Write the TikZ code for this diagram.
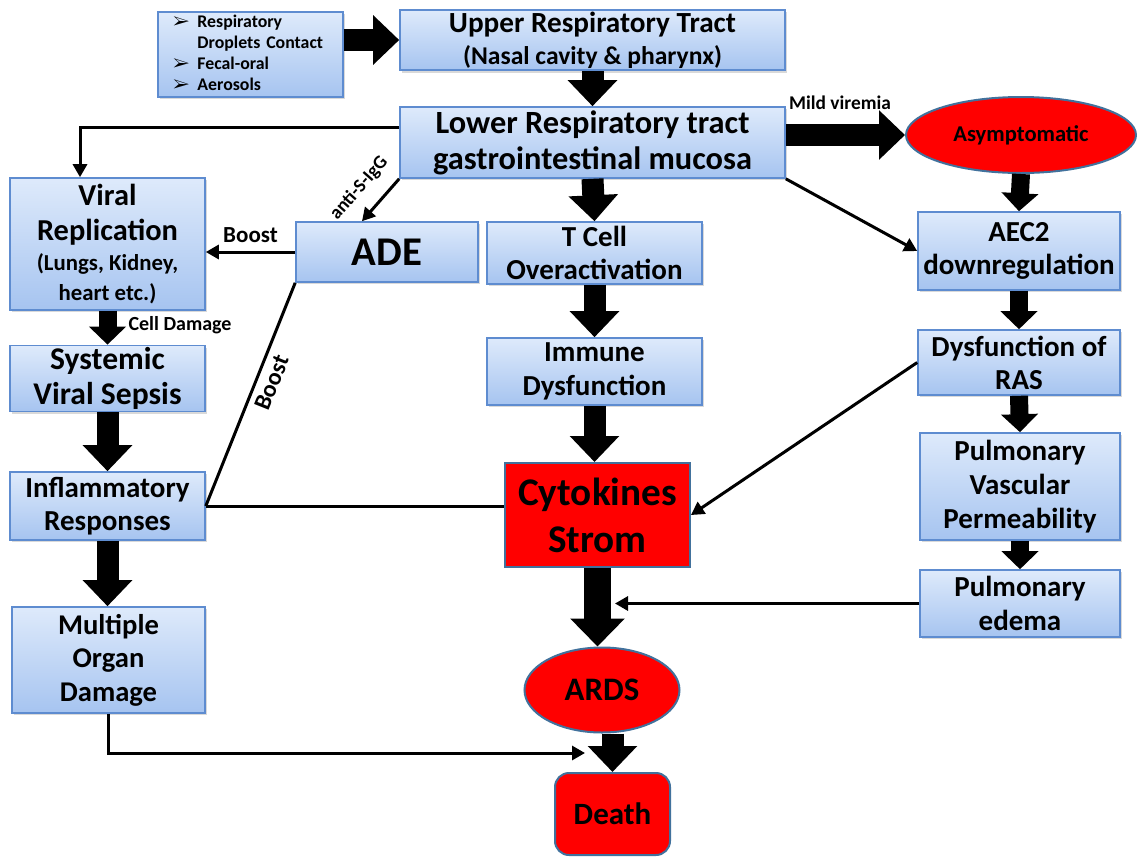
\documentclass[tikz,border=0pt]{standalone}
\usepackage{fontspec}
\setmainfont{Carlito}
\usepackage{pifont}
\usetikzlibrary{arrows.meta,shapes,shadows,calc}

\definecolor{boxtop}{RGB}{222,234,251}
\definecolor{boxbot}{RGB}{166,196,240}
\definecolor{boxline}{RGB}{94,140,208}
\definecolor{redline}{RGB}{65,113,156}

\newcommand{\setfs}[2]{\fontsize{#1}{#2}\selectfont}

\tikzset{
  wh/.style 2 args={minimum width=#1*0.5pt, minimum height=#2*0.5pt},
  txt/.style 2 args={font=\bfseries\setfs{#1}{#2}},
  bluebox/.style={draw=boxline, line width=0.8pt, top color=boxtop, bottom color=boxbot,
    inner sep=1pt, align=center, txt={14.5}{16.5},
    drop shadow={shadow xshift=1.2pt, shadow yshift=-1.2pt, opacity=0.3}},
  redbox/.style={draw=redline, line width=1pt, fill=red, inner sep=1pt, align=center, txt={15.5}{17}},
  fat/.style={line width=11pt, -{Triangle[width=24pt,length=13pt]}},
  fatbig/.style={line width=13.5pt, -{Triangle[width=26.5pt,length=14pt]}},
  fatsm/.style={line width=9pt, -{Triangle[width=18pt,length=9pt]}},
  thinarrow/.style={line width=1.5pt, -{Triangle[width=7pt,length=6.5pt]}},
  bare/.style={line width=1.5pt},
  lbl/.style={txt={10}{11}, inner sep=1pt},
}

\begin{document}
\begin{tikzpicture}[x=0.5pt,y=-0.5pt]
  \useasboundingbox (0,0) rectangle (1137,858);

  % top row
  \node[bluebox, wh={185}{85}, txt={8.9}{10.5}, align=left, text width=77.5pt,
        inner xsep=7.5pt, inner ysep=0pt] (src) at (250.5,54.5)
    {\begin{tabular}{@{}l@{\hspace{4pt}}l@{}}
      \ding{226} & Respiratory\\
                 & Droplets Contact\\
      \ding{226} & Fecal-oral\\
      \ding{226} & Aerosols
    \end{tabular}};
  \node[bluebox, wh={385}{56}, txt={14.6}{16}] (urt) at (592.5,40)
    {Upper Respiratory Tract\\\setfs{12.8}{16}(Nasal cavity \& pharynx)};
  \node[bluebox, wh={385}{71}, txt={16.2}{18}] (lrt) at (592.5,142.5)
    {Lower Respiratory tract\\gastrointestinal mucosa};
  \node[redbox, ellipse, wh={230}{76}, txt={11.3}{13}] (asym) at (1021,135) {Asymptomatic};

  % left column
  \node[bluebox, wh={195}{132}, txt={15.2}{17.5}] (viral) at (107.5,244)
    {Viral\\Replication\\[-2.5pt]\setfs{11.4}{13}(Lungs, Kidney,\\[-2.5pt]\setfs{11.4}{13}heart etc.)};
  \node[bluebox, wh={195}{63}, txt={15.8}{17.5}] (sepsis) at (107.5,378.5) {Systemic\\Viral Sepsis};
  \node[bluebox, wh={195}{68}] (inflam) at (107.5,506) {Inflammatory\\Responses};
  \node[bluebox, wh={193}{106}, txt={14.3}{16.8}] (organ) at (108.5,660) {Multiple\\Organ\\Damage};
  \node[bluebox, wh={182}{60}, txt={20.4}{22}] (ade) at (387,252) {ADE};

  % middle column
  \node[bluebox, wh={215}{62}] (tcell) at (594.5,253) {T Cell\\Overactivation};
  \node[bluebox, wh={215}{67}, txt={14.5}{17}] (immune) at (594.5,371.5) {Immune\\Dysfunction};
  \node[redbox, wh={185}{104}, txt={19.6}{23.5}] (cyto) at (597.5,515) {Cytokines\\Strom};
  \node[redbox, ellipse, wh={155}{85}, txt={16.4}{18}] (ards) at (602,690) {ARDS};
  \node[redbox, rounded corners=7pt, wh={115}{82}] (death) at (612.5,814) {Death};

  % right column
  \node[bluebox, wh={202}{78}] (aec) at (1019,251) {AEC2\\downregulation};
  \node[bluebox, wh={202}{65}] (ras) at (1019,362.5) {Dysfunction of\\RAS};
  \node[bluebox, wh={200}{107}, txt={14.5}{17}] (pvp) at (1020,486.5) {Pulmonary\\Vascular\\Permeability};
  \node[bluebox, wh={200}{67}, txt={14.5}{17}] (edema) at (1020,603.5) {Pulmonary\\edema};

  % thick arrows
  \draw[fat] (src.east |- urt.west) -- (urt.west);
  \draw[fat] (urt.south) -- (lrt.north);
  \draw[fat] (lrt.east |- asym.west) -- (asym.west);
  \node[lbl, txt={9.7}{11}] (mild) at (840,103) {Mild viremia};
  \draw[fat] (lrt.south) -- (tcell.north);
  \draw[fat] (tcell.south) -- (immune.north);
  \draw[fat] (immune.south) -- (immune.south |- cyto.north);
  \draw[fatbig] (cyto.south) -- (cyto.south |- ards.north);
  \draw[fat] (death.north |- ards.south) -- (death.north);
  \draw[fatsm] (viral.south) -- (sepsis.north);
  \node[lbl] (celldmg) at (180,325) {Cell Damage};
  \draw[fat] (sepsis.south) -- (inflam.north);
  \draw[fat] (inflam.south) -- (inflam.south |- organ.north);
  \draw[fatsm] (asym.south) -- (aec.north);
  \draw[fatsm] (aec.south) -- (ras.north);
  \draw[fatsm] (ras.south) -- (pvp.north);
  \draw[fatsm] (pvp.south) -- (edema.north);

  % thin connectors
  \draw[thinarrow] ($(lrt.west)+(0,-15)$) -| ($(viral.north)+(-27.5,0)$);
  \draw[thinarrow] (lrt.south west) -- ($(ade.north)+(-25,0)$)
    node[lbl, pos=0.6, sloped, above=6pt, txt={9.5}{11}] (igg) {anti-S-IgG};
  \draw[thinarrow] (ade.west) -- (ade.west -| viral.east)
    node[lbl, midway, above=3pt, txt={11.5}{13}] (boost1) {Boost};
  \draw[bare] (inflam.east) -- (ade.south west)
    node[lbl, pos=0.58, sloped, below=2pt, txt={12}{13}] (boost2) {Boost};
  \draw[bare] (inflam.east) -- (inflam.east -| cyto.west);
  \draw[thinarrow] (lrt.south east) -- (aec.west);
  \draw[thinarrow] (ras.west) -- (cyto.east);
  \coordinate (shaft) at (615,598);
  \draw[thinarrow] (edema.west) -- (edema.west -| shaft);
  \coordinate (deathin) at (585,753);
  \draw[thinarrow] (organ.south) |- (deathin);
\end{tikzpicture}
\end{document}
